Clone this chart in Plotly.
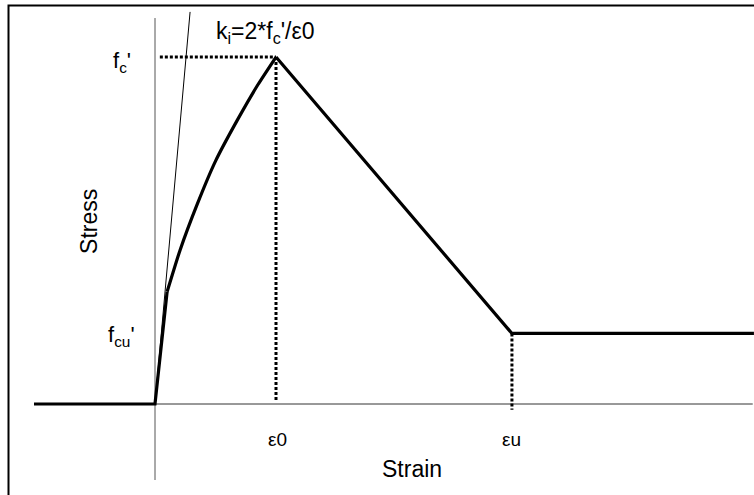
import plotly.graph_objects as go

# --- data (strain, stress) ---
eps0 = 0.002          # strain at peak stress
eps_u = 0.0059        # ultimate strain
fc = 30.0             # peak stress f_c'
fcu = 6.1             # residual stress f_cu'

# straight parts of the curve
pre_strain = [-0.002, 0.0, 0.0002]
pre_stress = [0.0, 0.0, 9.7]
# curved ascending branch
asc_strain = [0.0002, 0.000414, 0.0007, 0.001, 0.001356, 0.0017, 0.002]
asc_stress = [9.7, 13.3, 17.3, 21.0, 24.5, 27.6, 30.0]
# softening + residual plateau
post_strain = [0.002, 0.0059, 0.0099]
post_stress = [30.0, 6.1, 6.1]

tangent_strain = [0.0, 0.00058]
tangent_stress = [0.0, 33.9]

xaxis_strain = [0.0, 0.00988]
xaxis_stress = [0.0, 0.0]
yaxis_strain = [0.0, 0.0]
yaxis_stress = [-6.57, 33.37]

x_range = [-0.002562, 0.009901]
y_range = [-7.867, 34.93]

FONT = "Liberation Sans, Arial, sans-serif"

fig = go.Figure()

# thin axis lines
fig.add_trace(go.Scatter(x=xaxis_strain, y=xaxis_stress, mode="lines",
                         line=dict(color="#333333", width=1), hoverinfo="skip"))
fig.add_trace(go.Scatter(x=yaxis_strain, y=yaxis_stress, mode="lines",
                         line=dict(color="#555555", width=1), hoverinfo="skip"))
# tangent (initial stiffness)
fig.add_trace(go.Scatter(x=tangent_strain, y=tangent_stress, mode="lines",
                         line=dict(color="black", width=1), hoverinfo="skip"))
# dotted guides
dot = dict(color="black", width=3, dash="3px,2px")
fig.add_trace(go.Scatter(x=[0.00008, eps0], y=[fc, fc], mode="lines", line=dot, hoverinfo="skip"))
fig.add_trace(go.Scatter(x=[eps0, eps0], y=[fc, 0.3], mode="lines", line=dot, hoverinfo="skip"))
fig.add_trace(go.Scatter(x=[eps_u, eps_u], y=[fcu, -0.5], mode="lines", line=dot, hoverinfo="skip"))
# main stress-strain curve
thick = dict(color="black", width=3.2)
fig.add_trace(go.Scatter(x=pre_strain, y=pre_stress, mode="lines", line=thick, hoverinfo="skip"))
fig.add_trace(go.Scatter(x=asc_strain, y=asc_stress, mode="lines",
                         line=dict(color="black", width=3.2, shape="spline", smoothing=0.5),
                         hoverinfo="skip"))
fig.add_trace(go.Scatter(x=post_strain, y=post_stress, mode="lines", line=thick, hoverinfo="skip"))

ann = [
    dict(x=-0.00036, y=fc, text="f<sub>c</sub>'", xanchor="right", yanchor="middle", yshift=-5,
         font=dict(size=22)),
    dict(x=-0.00030, y=fcu, text="f<sub>cu</sub>'", xanchor="right", yanchor="middle", yshift=-3,
         font=dict(size=22)),
    dict(x=0.00183, y=fc, text="k<sub>i</sub>=2*f<sub>c</sub>'/ε0", xanchor="center", yanchor="bottom",
         yshift=8, font=dict(size=23)),
    dict(x=eps0 + 0.00002, y=-3.1, text="ε0", xanchor="center", yanchor="middle", font=dict(size=19)),
    dict(x=eps_u, y=-3.1, text="εu", xanchor="center", yanchor="middle", font=dict(size=19)),
    dict(x=0.00425, y=-5.6, text="Strain", xanchor="center", yanchor="middle", font=dict(size=23)),
    dict(x=-0.00108, y=15.8, text="Stress", textangle=-90, xanchor="center", yanchor="middle",
         font=dict(size=23)),
]
for a in ann:
    a.update(xref="x", yref="y", showarrow=False)
    a["font"].update(family=FONT, color="black")

fig.update_layout(
    width=754, height=495,
    margin=dict(l=0, r=0, t=0, b=0),
    paper_bgcolor="white", plot_bgcolor="white",
    showlegend=False,
    annotations=ann,
    xaxis=dict(range=x_range, visible=False, fixedrange=True),
    yaxis=dict(range=y_range, visible=False, fixedrange=True),
    shapes=[dict(type="rect", xref="paper", yref="paper", x0=8.5/754, x1=1.02,
                 y0=-0.02, y1=1 - 5.5/495, line=dict(color="black", width=2))],
)

fig.write_html("out.html")
